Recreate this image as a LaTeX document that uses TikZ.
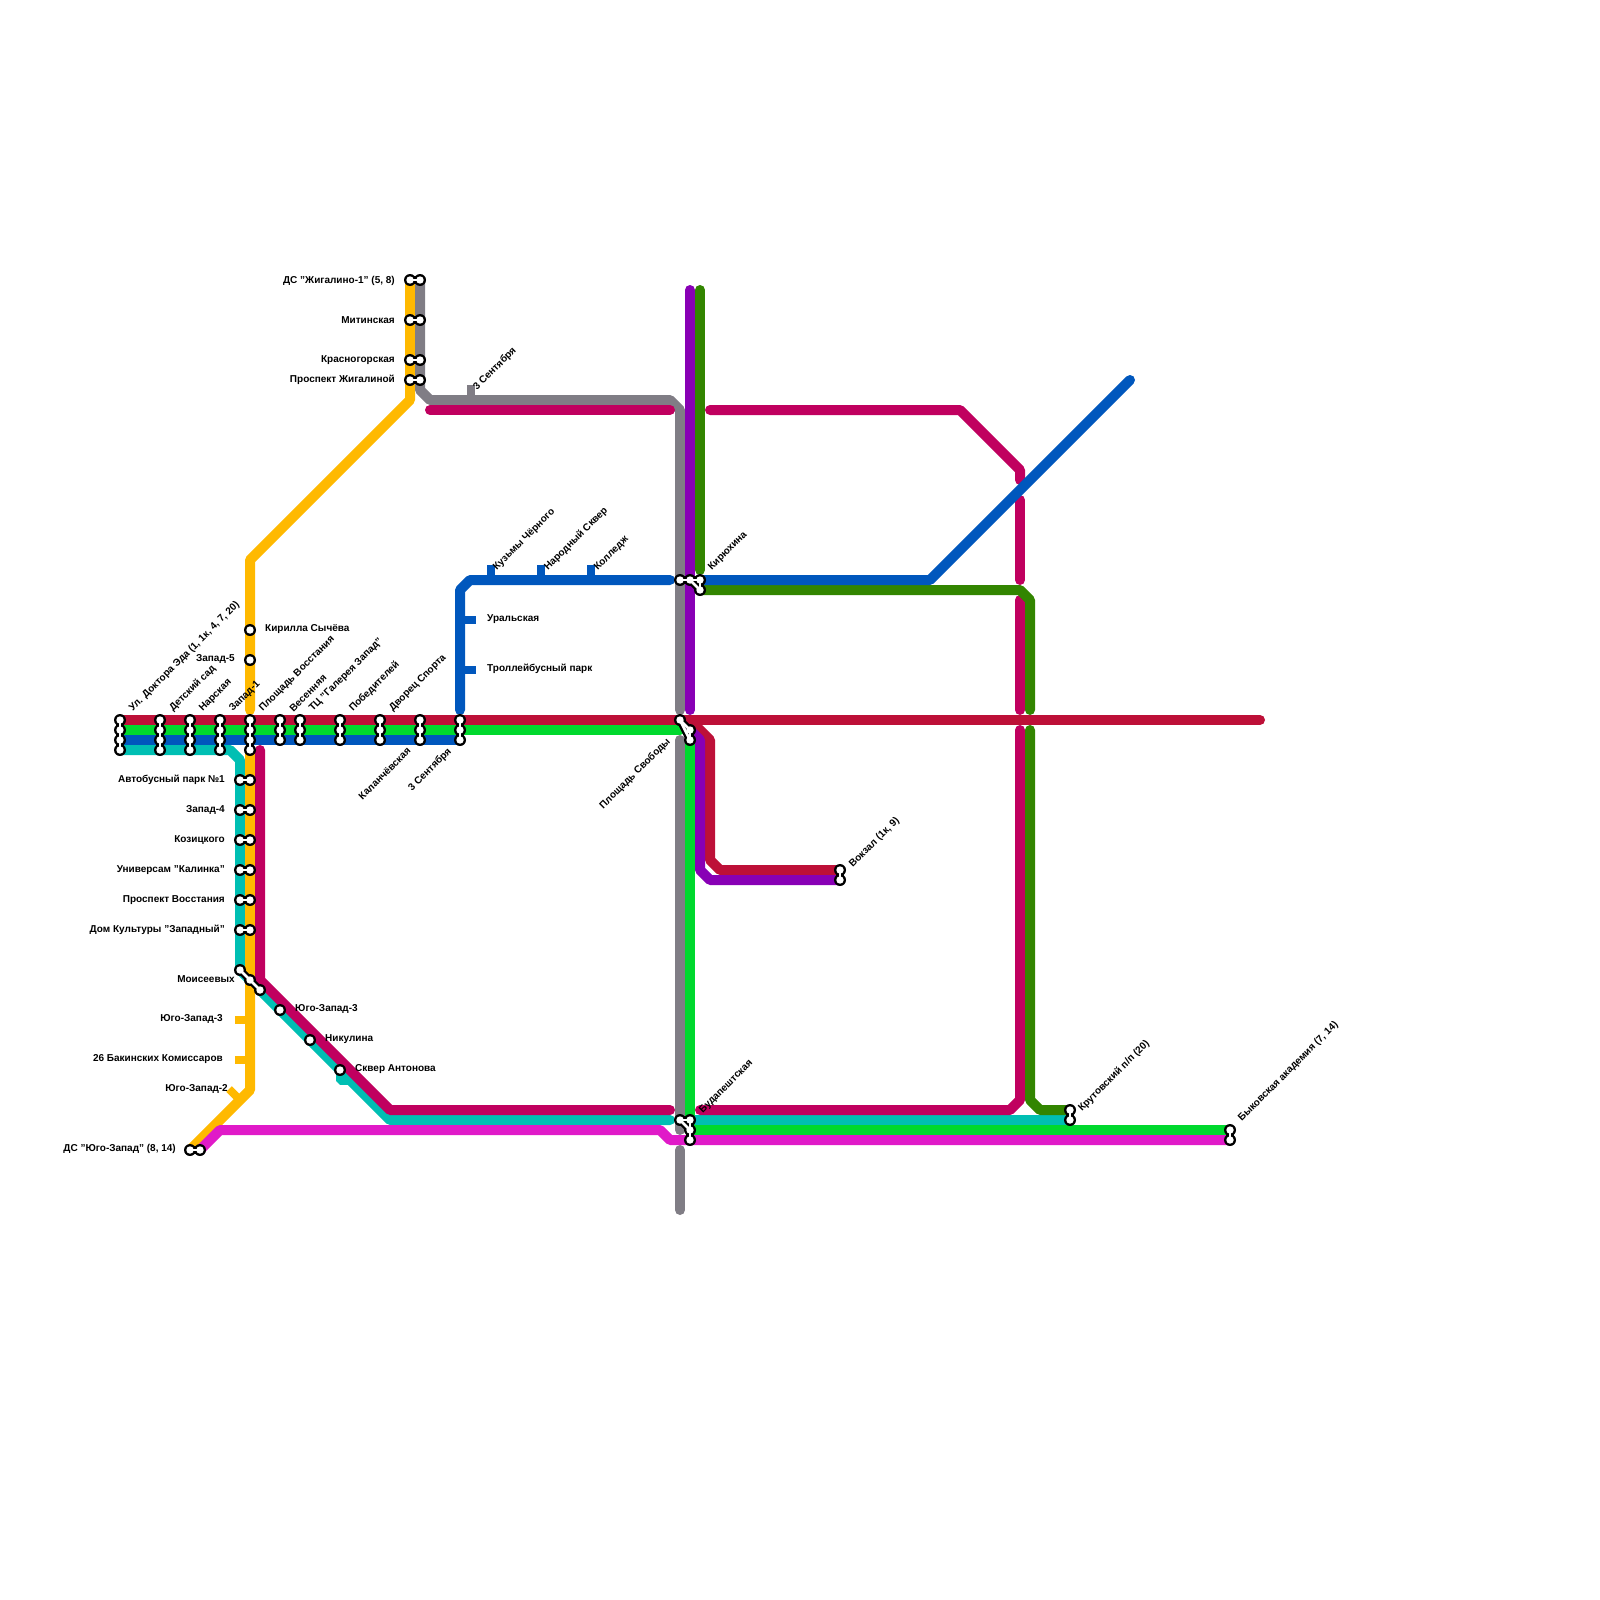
\documentclass[tikz,border=0pt]{standalone}
\usepackage{fontspec}
\setmainfont{Liberation Sans}
\definecolor{cred}{HTML}{BD1038}
\definecolor{cgreen}{HTML}{00D92E}
\definecolor{cblue}{HTML}{0057BD}
\definecolor{cteal}{HTML}{00BFB3}
\definecolor{corange}{HTML}{FFB900}
\definecolor{cmag}{HTML}{C0005F}
\definecolor{cgrey}{HTML}{807D85}
\definecolor{cpurple}{HTML}{8800B5}
\definecolor{cdgreen}{HTML}{328500}
\definecolor{cpink}{HTML}{E01AC8}
\tikzset{
  ln/.style={line width=10pt,line cap=round,line join=bevel},
  stub/.style={line width=8pt,line cap=butt,line join=bevel},
  stn/.style={circle,fill=black,inner sep=0pt,minimum size=12pt},
  lnkb/.style={black,line width=7.4pt},
  lnkw/.style={white,line width=2.8pt},
  lab/.style={font=\bfseries\fontsize{10}{12}\selectfont,text=black,inner sep=0pt},
  labl/.style={lab,anchor=east},
  labr/.style={lab,anchor=west},
  labu/.style={lab,anchor=west,rotate=45},
  labd/.style={lab,anchor=east,rotate=45}
}
\newcommand\linkpass[1]{%
  \foreach \x in {120,160,190,220,250}{\draw[#1] (s\x a.center)--(s\x b.center)--(s\x c.center)--(s\x d.center);}
  \foreach \x in {280,300,340,380,420,460}{\draw[#1] (s\x a.center)--(s\x b.center)--(s\x c.center);}
  \foreach \a/\b in {zh1a/zh1b,zh2a/zh2b,zh3a/zh3b,zh4a/zh4b,w1a/w1b,w2a/w2b,w3a/w3b,w4a/w4b,w5a/w5b,w6a/w6b,
    mo1/mo2,mo2/mo3,dswa/dswb,vka/vkb,kra/krb,bya/byb,
    ku1/ku2,ku2/ku3,ku3/ku4,ku2/ku4,
    ps1/ps2,ps2/ps3,ps1/ps3,
    bu1/bu2,bu2/bu3,bu3/bu4,bu1/bu3}
    {\draw[#1] (\a.center)--(\b.center);}
}
\begin{document}
\begin{tikzpicture}[x=1pt,y=-1pt]
\useasboundingbox (0,0) rectangle (1600,1600);
% way-points
\coordinate (redE) at (1260,720);
\coordinate (grE) at (680,730);
\coordinate (t1) at (230,750);
\coordinate (t2) at (240,760);
\coordinate (t3) at (390,1120);
\coordinate (t4) at (670,1120);
\coordinate (t5) at (340,1081);
\coordinate (t6) at (352,1081);
\coordinate (o1) at (250,1090);
\coordinate (o2) at (250,710);
\coordinate (o3) at (250,560);
\coordinate (o4) at (410,400);
\coordinate (oS1a) at (250,1020);\coordinate (oS1b) at (235,1020);
\coordinate (oS2a) at (250,1060);\coordinate (oS2b) at (235,1060);
\coordinate (oS3a) at (240,1100);\coordinate (oS3b) at (229,1089);
\coordinate (m1) at (260,750);
\coordinate (m2) at (260,980);
\coordinate (m3) at (390,1110);
\coordinate (m4) at (670,1110);
\coordinate (m5) at (430,410);
\coordinate (m6) at (670,410);
\coordinate (m7) at (710,410);
\coordinate (m8) at (960,410);
\coordinate (m9) at (1020,470);
\coordinate (m10) at (1020,480);
\coordinate (m11) at (1020,500);
\coordinate (m12) at (1020,580);
\coordinate (m13) at (1020,600);
\coordinate (m14) at (1020,710);
\coordinate (m15) at (1020,730);
\coordinate (m16) at (1020,1100);
\coordinate (m17) at (1010,1110);
\coordinate (m18) at (700,1110);
\coordinate (g1) at (420,390);
\coordinate (g2) at (430,400);
\coordinate (g3) at (670,400);
\coordinate (g4) at (680,410);
\coordinate (g5) at (680,710);
\coordinate (g6) at (680,740);
\coordinate (g7) at (680,1130);
\coordinate (g8) at (680,1150);
\coordinate (g9) at (680,1210);
\coordinate (gSa) at (471,400);\coordinate (gSb) at (471,385);
\coordinate (p1) at (690,290);
\coordinate (p2) at (690,710);
\coordinate (p3) at (690,730);
\coordinate (p4) at (700,740);
\coordinate (p5) at (700,870);
\coordinate (p6) at (710,880);
\coordinate (r1) at (690,720);
\coordinate (r2) at (710,740);
\coordinate (r3) at (710,860);
\coordinate (r4) at (720,870);
\coordinate (lg1) at (690,740);
\coordinate (lg2) at (690,1130);
\coordinate (d1) at (700,290);
\coordinate (d2) at (700,570);
\coordinate (d3) at (700,590);
\coordinate (d4) at (1020,590);
\coordinate (d5) at (1030,600);
\coordinate (d6) at (1030,710);
\coordinate (d7) at (1030,730);
\coordinate (d8) at (1030,1100);
\coordinate (d9) at (1040,1110);
\coordinate (b1) at (460,710);
\coordinate (b2) at (460,590);
\coordinate (b3) at (470,580);
\coordinate (b4) at (670,580);
\coordinate (b5) at (700,580);
\coordinate (b6) at (930,580);
\coordinate (b7) at (1130,380);
\coordinate (bS1a) at (491,580);\coordinate (bS1b) at (491,565);
\coordinate (bS2a) at (541,580);\coordinate (bS2b) at (541,565);
\coordinate (bS3a) at (591,580);\coordinate (bS3b) at (591,565);
\coordinate (bS4a) at (460,620);\coordinate (bS4b) at (476,620);
\coordinate (bS5a) at (460,670);\coordinate (bS5b) at (476,670);
\coordinate (k1) at (220,1130);
\coordinate (k2) at (660,1130);
\coordinate (k3) at (670,1140);
\foreach \x in {120,160,190,220,250}{\foreach \l/\yy in {a/720,b/730,c/740,d/750}{\path (\x,\yy) coordinate (tmp\x\l);}}
% lines
\draw[ln,cteal] (tmp120d) -- (t1) -- (t2) -- (240,970) -- (260,990) -- (t3) -- (t4);
\draw[stub,cteal] (340,1070) -- (t5) -- (t6);
\draw[ln,cteal] (690,1120) -- (1070,1120);
\draw[ln,cred] (tmp120a) -- (redE);
\draw[ln,cgreen] (tmp120b) -- (grE);
\draw[ln,cblue] (tmp120c) -- (460,740);
\draw[ln,corange] (tmp250d) -- (o1) -- (190,1150);
\draw[stub,corange] (oS1a) -- (oS1b);
\draw[stub,corange] (oS2a) -- (oS2b);
\draw[stub,corange] (oS3a) -- (oS3b);
\draw[ln,corange] (o2) -- (o3) -- (o4) -- (410,280);
\draw[ln,cgrey] (420,280) -- (g1) -- (g2) -- (g3) -- (g4) -- (g5);
\draw[stub,cgrey] (gSa) -- (gSb);
\draw[ln,cgrey] (g6) -- (g7);
\draw[ln,cgrey] (g8) -- (g9);
\draw[ln,cmag] (m1) -- (m2) -- (m3) -- (m4);
\draw[ln,cmag] (m5) -- (m6);
\draw[ln,cmag] (m7) -- (m8) -- (m9) -- (m10);
\draw[ln,cmag] (m11) -- (m12);
\draw[ln,cmag] (m13) -- (m14);
\draw[ln,cmag] (m15) -- (m16) -- (m17) -- (m18);
\draw[ln,cpurple] (p1) -- (p2);
\draw[ln,cgreen] (lg1) -- (lg2) -- (1230,1130);
\draw[ln,cred] (r1) -- (r2) -- (r3) -- (r4) -- (840,870);
\draw[ln,cpurple] (p3) -- (p4) -- (p5) -- (p6) -- (840,880);
\draw[ln,cdgreen] (d1) -- (d2);
\draw[ln,cdgreen] (d3) -- (d4) -- (d5) -- (d6);
\draw[ln,cdgreen] (d7) -- (d8) -- (d9) -- (1070,1110);
\draw[ln,cblue] (b1) -- (b2) -- (b3) -- (b4);
\draw[ln,cblue] (b5) -- (b6) -- (b7);
\foreach \n in {1,2,3,4,5}{\draw[stub,cblue] (bS\n a) -- (bS\n b);}
\draw[ln,cpink] (200,1150) -- (k1) -- (k2) -- (k3) -- (1230,1140);
% station nodes
\foreach \x in {120,160,190,220,250}{\foreach \l/\yy in {a/720,b/730,c/740,d/750}{\node[stn] (s\x\l) at (\x,\yy) {};}}
\foreach \x in {280,300,340,380,420,460}{\foreach \l/\yy in {a/720,b/730,c/740}{\node[stn] (s\x\l) at (\x,\yy) {};}}
\foreach \n/\yy in {1/280,2/320,3/360,4/380}{\node[stn] (zh\n a) at (410,\yy) {};\node[stn] (zh\n b) at (420,\yy) {};}
\foreach \n/\yy in {1/780,2/810,3/840,4/870,5/900,6/930}{\node[stn] (w\n a) at (240,\yy) {};\node[stn] (w\n b) at (250,\yy) {};}
\node[stn] (kyr) at (250,630) {};
\node[stn] (zap5) at (250,660) {};
\node[stn] (mo1) at (240,970) {};
\node[stn] (mo2) at (250,980) {};
\node[stn] (mo3) at (260,990) {};
\node[stn] (yz3) at (280,1010) {};
\node[stn] (nik) at (310,1040) {};
\node[stn] (ant) at (340,1070) {};
\node[stn] (dswa) at (190,1150) {};
\node[stn] (dswb) at (200,1150) {};
\node[stn] (ku1) at (680,580) {};
\node[stn] (ku2) at (690,580) {};
\node[stn] (ku3) at (700,580) {};
\node[stn] (ku4) at (700,590) {};
\node[stn] (ps1) at (680,720) {};
\node[stn] (ps2) at (690,730) {};
\node[stn] (ps3) at (690,740) {};
\node[stn] (bu1) at (680,1120) {};
\node[stn] (bu2) at (690,1120) {};
\node[stn] (bu3) at (690,1130) {};
\node[stn] (bu4) at (690,1140) {};
\node[stn] (vka) at (840,870) {};
\node[stn] (vkb) at (840,880) {};
\node[stn] (kra) at (1070,1110) {};
\node[stn] (krb) at (1070,1120) {};
\node[stn] (bya) at (1230,1130) {};
\node[stn] (byb) at (1230,1140) {};
\linkpass{lnkb}
\linkpass{lnkw}
\foreach \x in {120,160,190,220,250}{\foreach \l in {a,b,c,d}{\fill[white] (s\x\l) circle (3.7pt);}}
\foreach \x in {280,300,340,380,420,460}{\foreach \l in {a,b,c}{\fill[white] (s\x\l) circle (3.7pt);}}
\foreach \n in {zh1a,zh1b,zh2a,zh2b,zh3a,zh3b,zh4a,zh4b,w1a,w1b,w2a,w2b,w3a,w3b,w4a,w4b,w5a,w5b,w6a,w6b,
  kyr,zap5,mo1,mo2,mo3,yz3,nik,ant,dswa,dswb,ku1,ku2,ku3,ku4,ps1,ps2,ps3,bu1,bu2,bu3,bu4,vka,vkb,kra,krb,bya,byb}
  {\fill[white] (\n) circle (3.7pt);}
% labels
\node[labu] (l1) at (131,710) {Ул. Доктора Эда (1, 1к, 4, 7, 20)};
\node[labu] (l2) at (171,710) {Детский сад};
\node[labu] (l3) at (201,710) {Нарская};
\node[labu] (l4) at (231,710) {Запад-1};
\node[labu] (l5) at (261,710) {Площадь Восстания};
\node[labu] (l6) at (291,710) {Весенняя};
\node[labu] (l7) at (311,710) {ТЦ "Галерея Запад"};
\node[labu] (l8) at (351,710) {Победителей};
\node[labu] (l9) at (391,710) {Дворец Спорта};
\node[labd] (l10) at (409,749) {Каланчёвская};
\node[labd] (l11) at (450,750) {3 Сентября};
\node[labu] (l12) at (475,389) {3 Сентября};
\node[labu] (l13) at (495,569) {Кузьмы Чёрного};
\node[labu] (l14) at (546,569) {Народный Сквер};
\node[labu] (l15) at (596,569) {Колледж};
\node[labu] (l16) at (710,569) {Кирюхина};
\node[labd] (l17) at (669,740) {Площадь Свободы};
\node[labu] (l18) at (701,1112) {Будапештская};
\node[labu] (l19) at (851,866) {Вокзал (1к, 9)};
\node[labu] (l20) at (1080,1110) {Крутовский п/п (20)};
\node[labu] (l21) at (1240,1120) {Быковская академия (7, 14)};
\node[labl] (l22) at (395,281) {ДС "Жигалино-1" (5, 8)};
\node[labl] (l23) at (395,320) {Митинская};
\node[labl] (l24) at (395,360) {Красногорская};
\node[labl] (l25) at (395,380) {Проспект Жигалиной};
\node[labl] (l26) at (225,780) {Автобусный парк №1};
\node[labl] (l27) at (225,810) {Запад-4};
\node[labl] (l28) at (225,840) {Козицкого};
\node[labl] (l29) at (225,870) {Универсам "Калинка"};
\node[labl] (l30) at (225,900) {Проспект Восстания};
\node[labl] (l31) at (225,930) {Дом Культуры "Западный"};
\node[labl] (l32) at (235,979) {Моисеевых};
\node[labl] (l33) at (223,1019) {Юго-Запад-3};
\node[labl] (l34) at (223,1059) {26 Бакинских Комиссаров};
\node[labl] (l35) at (228,1089) {Юго-Запад-2};
\node[labl] (l36) at (176,1149) {ДС "Юго-Запад" (8, 14)};
\node[labl] (l37) at (235,659) {Запад-5};
\node[labr] (l38) at (265,629) {Кирилла Сычёва};
\node[labr] (l39) at (295,1009) {Юго-Запад-3};
\node[labr] (l40) at (325,1039) {Никулина};
\node[labr] (l41) at (355,1069) {Сквер Антонова};
\node[labr] (l42) at (487,619) {Уральская};
\node[labr] (l43) at (487,669) {Троллейбусный парк};
\end{tikzpicture}
\end{document}
